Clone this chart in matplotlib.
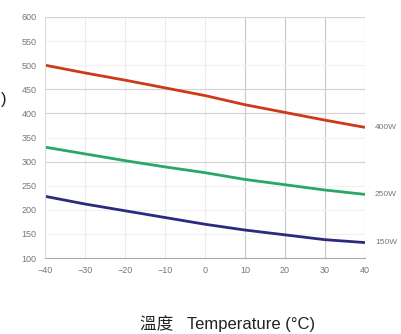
import matplotlib.pyplot as plt

plt.rcParams['font.family'] = ['Liberation Sans', 'Noto Sans CJK TC', 'DejaVu Sans']

temps = [-40, -30, -20, -10, 0, 10, 20, 30, 40]
w400 = [500, 484, 469, 453, 437, 418, 402, 386, 371]
w250 = [330, 316, 302, 289, 277, 263, 252, 241, 232]
w150 = [228, 212, 198, 184, 170, 158, 148, 138, 132]
series_labels = ['400W', '250W', '150W']
yticks = [100, 150, 200, 250, 300, 350, 400, 450, 500, 550, 600]
xticks = [-40, -30, -20, -10, 0, 10, 20, 30, 40]

fig = plt.figure(figsize=(4.02, 3.34), dpi=100)
ax = fig.add_axes([45 / 402, 1 - 258 / 334, 320 / 402, 241 / 334])

# light grid, a few darker lines like the original
for x in xticks:
    ax.axvline(x, color='#ececec', lw=0.8, zorder=0)
for x in [10, 20, 30, 40]:
    ax.axvline(x, color='#c8c8c8', lw=0.8, zorder=0)
for y in yticks:
    ax.axhline(y, color='#f0f0f0', lw=0.8, zorder=0)
for y in [300, 400, 450, 600]:
    ax.axhline(y, color='#d2d2d2', lw=0.8, zorder=0)

colors = ['#cc3a1a', '#27a866', '#2b2a7e']
for vals, c, lab in zip([w400, w250, w150], colors, series_labels):
    ax.plot(temps, vals, color=c, lw=2.0, solid_capstyle='butt')
    ax.text(42.5, vals[-1], lab, fontsize=6, color='#777777', va='center')

ax.set_xlim(-40, 40)
ax.set_ylim(100, 600)
ax.set_xticks(xticks)
ax.set_yticks(yticks)
ax.tick_params(labelsize=6.5, colors='#777777', length=0, pad=6)
for s in ['top', 'right']:
    ax.spines[s].set_visible(False)
ax.spines['left'].set_color('#dddddd')
ax.spines['bottom'].set_color('#aaaaaa')

fig.text(140 / 402, 1 - 329 / 334, '溫度   Temperature (°C)', ha='left', va='baseline',
         fontsize=12, color='#222222')
# the y label is cut off in the source, only its closing bracket shows
fig.text(0.5 / 402, 1 - 100 / 334, ')', ha='left', va='center', fontsize=12, color='#222222')

fig.savefig('out.png', dpi=100)
